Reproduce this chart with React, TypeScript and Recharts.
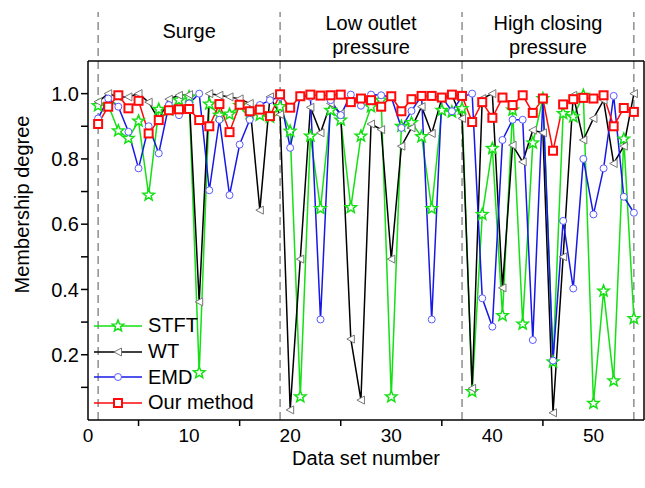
import React from 'react';
import { LineChart, Line, XAxis, YAxis, ReferenceLine, ReferenceArea, Legend, Label } from 'recharts';

const FONT = '"Liberation Sans", Arial, Helvetica, sans-serif';

// ---- data ----
const dataSetNumbers = [
  1, 2, 3, 4, 5, 6, 7, 8, 9, 10, 11, 12, 13, 14, 15, 16, 17, 18,
  19, 20, 21, 22, 23, 24, 25, 26, 27, 28, 29, 30, 31, 32, 33, 34, 35, 36,
  37, 38, 39, 40, 41, 42, 43, 44, 45, 46, 47, 48, 49, 50, 51, 52, 53, 54,
];

const stftValues = [
  0.963, 0.965, 0.886, 0.863, 0.916, 0.689, 0.952, 0.95, 0.98, 0.99, 0.145, 0.968, 0.934, 0.937, 0.964, 0.939, 0.934, 0.928,
  0.96, 0.885, 0.071, 0.87, 0.648, 0.949, 0.919, 0.651, 0.87, 0.96, 0.98, 0.071, 0.9, 0.911, 0.868, 0.648, 0.949, 0.944,
  0.954, 0.087, 0.63, 0.832, 0.32, 0.95, 0.294, 0.849, 0.985, 0.178, 0.939, 0.929, 0.995, 0.051, 0.395, 0.12, 0.861, 0.311,
];

const wtValues = [
  0.975, 1.0, 0.99, 0.99, 1.0, 0.974, 0.92, 0.983, 0.995, 0.997, 0.362, 1.0, 0.995, 0.99, 0.984, 0.97, 0.643, 0.99,
  0.936, 0.031, 0.493, 0.958, 0.88, 0.97, 0.939, 0.248, 0.061, 0.907, 0.89, 0.493, 0.839, 0.895, 0.96, 0.878, 0.985, 0.995,
  0.924, 0.097, 0.985, 1.0, 0.405, 0.842, 0.791, 0.888, 0.88, 0.022, 0.5, 0.995, 0.858, 0.924, 0.98, 0.786, 0.839, 1.0,
];

const emdValues = [
  0.924, 0.985, 0.96, 0.883, 0.771, 0.9, 0.817, 0.965, 0.934, 0.97, 1.0, 0.704, 0.92, 0.689, 0.844, 0.92, 0.965, 0.98,
  0.99, 0.834, 0.995, 0.99, 0.308, 0.98, 0.934, 0.997, 0.963, 0.997, 0.995, 0.99, 0.895, 0.947, 0.993, 0.308, 0.99, 0.946,
  0.99, 1.0, 0.373, 0.286, 0.858, 0.92, 0.92, 0.245, 0.985, 0.182, 0.61, 0.403, 0.8, 0.63, 0.771, 0.993, 0.684, 0.635,
];

const ourValues = [
  0.907, 0.96, 0.995, 0.955, 0.978, 0.878, 0.919, 0.949, 0.952, 0.953, 0.919, 0.9, 0.968, 0.882, 0.966, 0.946, 0.951, 0.931,
  0.998, 0.957, 0.992, 0.997, 0.994, 0.995, 0.997, 0.974, 0.985, 0.98, 0.96, 0.992, 0.946, 0.983, 0.993, 0.993, 0.988, 0.997,
  0.993, 0.913, 0.974, 0.926, 0.988, 0.965, 0.995, 0.941, 0.985, 0.825, 0.967, 0.983, 0.987, 0.985, 0.995, 0.9, 0.956, 0.944,
];

const seriesNames = ['STFT', 'WT', 'EMD', 'Our method'];
const xLabelTicks = [0, 10, 20, 30, 40, 50];
const xMinorTicks = [5, 15, 25, 35, 45];
const yTicks = [0.1, 0.2, 0.3, 0.4, 0.5, 0.6, 0.7, 0.8, 0.9, 1.0];
const yRightTicks = [0.1, 0.3, 0.5, 0.7, 0.9];
const boundaryPositions = [1, 19, 37, 54];
const regionStarts = [1, 19, 37];
const regionEnds = [19, 37, 54];
const regionLabels = [['Surge'], ['Low outlet', 'pressure'], ['High closing', 'pressure']];

const data = dataSetNumbers.map((n, i) => ({
  n,
  stft: stftValues[i],
  wt: wtValues[i],
  emd: emdValues[i],
  ours: ourValues[i],
}));

// ---- styles ----
const GREEN = '#14e014';
const BLUE = '#1818e6';
const RED = '#ff0a0a';
const BLACK = '#000000';

const starPoints = (cx: number, cy: number, R: number, r: number) => {
  const pts: string[] = [];
  for (let k = 0; k < 10; k++) {
    const rad = k % 2 === 0 ? R : r;
    const a = -Math.PI / 2 + (k * Math.PI) / 5;
    pts.push(`${(cx + rad * Math.cos(a)).toFixed(2)},${(cy + rad * Math.sin(a)).toFixed(2)}`);
  }
  return pts.join(' ');
};

const Marker = ({ kind, cx, cy }: { kind: string; cx: number; cy: number }) => {
  if (kind === 'star')
    return <polygon points={starPoints(cx, cy, 6, 2.6)} fill="#ffffff" stroke={GREEN} strokeWidth={1.5} />;
  if (kind === 'tri')
    return (
      <polygon
        points={`${cx - 4},${cy} ${cx + 3.5},${cy - 4} ${cx + 3.5},${cy + 4}`}
        fill="#ffffff"
        stroke="#777777"
        strokeWidth={1}
      />
    );
  if (kind === 'circle') return <circle cx={cx} cy={cy} r={3.5} fill="#ffffff" stroke="#5a5aff" strokeWidth={1} />;
  return <rect x={cx - 4} y={cy - 4} width={8} height={8} fill="#ffffff" stroke={RED} strokeWidth={2} />;
};

const makeDot = (kind: string) => (p: any) => {
  if (p.cx == null || p.cy == null) return <g key={`${kind}-${p.index}`} />;
  return (
    <g key={`${kind}-${p.index}`}>
      <Marker kind={kind} cx={p.cx} cy={p.cy} />
    </g>
  );
};

const seriesKeys = ['stft', 'wt', 'emd', 'ours'];
const seriesColors = [GREEN, BLACK, BLUE, RED];
const seriesMarkers = ['star', 'tri', 'circle', 'square'];

const BottomTick = (props: any) => {
  const { x, y, payload } = props;
  const v = payload.value;
  if (v % 10 === 0) {
    return (
      <text x={x} y={y + 22} textAnchor="middle" fontSize={19} fontFamily={FONT} fill="#000">
        {v}
      </text>
    );
  }
  return <line x1={x} y1={y} x2={x} y2={y + 6} stroke="#000" strokeWidth={1.5} />;
};

const RegionLabel = (props: any) => {
  const { viewBox, lines } = props;
  const cx = viewBox.x + viewBox.width / 2;
  const top = viewBox.y;
  if (lines.length === 1) {
    return (
      <text x={cx} y={top + 26} textAnchor="middle" fontSize={20} fontFamily={FONT} fill="#000">
        {lines[0]}
      </text>
    );
  }
  return (
    <text textAnchor="middle" fontSize={20} fontFamily={FONT} fill="#000">
      {lines.map((l: string, i: number) => (
        <tspan key={i} x={cx} y={top + 18 + i * 24}>
          {l}
        </tspan>
      ))}
    </text>
  );
};

const LegendContent = () => (
  <div style={{ fontFamily: FONT, fontSize: 20, color: '#000' }}>
    {seriesNames.map((name, i) => (
      <div key={name} style={{ display: 'flex', alignItems: 'center', height: 25.7 }}>
        <svg width={48} height={20} style={{ display: 'block' }}>
          <line x1={0} y1={10} x2={48} y2={10} stroke={seriesColors[i]} strokeWidth={1.5} />
          <Marker kind={seriesMarkers[i]} cx={24} cy={10} />
        </svg>
        <span style={{ marginLeft: 6, whiteSpace: 'nowrap' }}>{name}</span>
      </div>
    ))}
  </div>
);

export default function App() {
  return (
    <div style={{ position: 'absolute', left: 0, top: 0, width: 645, height: 488, background: '#fff' }}>
      <LineChart
        width={645}
        height={488}
        data={data}
        margin={{ top: 61, right: 1, bottom: 0, left: 0 }}
        style={{ fontFamily: FONT }}
      >
        <XAxis
          xAxisId="b"
          dataKey="n"
          type="number"
          domain={[0, 55]}
          ticks={[...xLabelTicks, ...xMinorTicks].sort((a, b) => a - b)}
          interval={0}
          tickLine={false}
          tickSize={0}
          tickMargin={0}
          height={68}
          axisLine={{ stroke: '#000', strokeWidth: 1.5 }}
          tick={BottomTick}
          allowDataOverflow
        >
          <Label
            content={(p: any) => (
              <text
                x={p.viewBox.x + p.viewBox.width / 2}
                y={465}
                textAnchor="middle"
                fontSize={20}
                fontFamily={FONT}
                fill="#000"
              >
                Data set number
              </text>
            )}
          />
        </XAxis>
        <XAxis
          xAxisId="t"
          orientation="top"
          mirror
          type="number"
          domain={[0, 55]}
          ticks={xMinorTicks}
          interval={0}
          tick={false}
          tickSize={6}
          tickLine={{ stroke: '#000', strokeWidth: 1.5 }}
          axisLine={{ stroke: '#000', strokeWidth: 1.5 }}
          allowDataOverflow
        />
        <YAxis
          yAxisId="l"
          type="number"
          domain={[0, 1.1]}
          ticks={yTicks}
          interval={0}
          width={88}
          tickSize={7}
          tickMargin={2}
          tickFormatter={(v: number) => (Math.round(v * 10) % 2 === 0 ? v.toFixed(1) : '')}
          tick={{ fontSize: 20, fill: '#000', fontFamily: FONT }}
          tickLine={{ stroke: '#000', strokeWidth: 1.5 }}
          axisLine={{ stroke: '#000', strokeWidth: 1.5 }}
          allowDataOverflow
        >
          <Label
            content={(p: any) => {
              const cx = 29;
              const cy = p.viewBox.y + p.viewBox.height / 2 - 36;
              return (
                <text
                  x={cx}
                  y={cy}
                  transform={`rotate(-90 ${cx} ${cy})`}
                  textAnchor="middle"
                  fontSize={20}
                  fontFamily={FONT}
                  fill="#000"
                >
                  Membership degree
                </text>
              );
            }}
          />
        </YAxis>
        <YAxis
          yAxisId="r"
          orientation="right"
          mirror
          type="number"
          domain={[0, 1.1]}
          ticks={yRightTicks}
          interval={0}
          width={1}
          tick={false}
          tickSize={6}
          tickLine={{ stroke: '#000', strokeWidth: 1.5 }}
          axisLine={{ stroke: '#000', strokeWidth: 1.5 }}
          allowDataOverflow
        />

        {boundaryPositions.map((b) => (
          <ReferenceLine
            key={`b-${b}`}
            xAxisId="b"
            yAxisId="l"
            segment={[
              { x: b, y: 0 },
              { x: b, y: 1.25 },
            ]}
            ifOverflow="visible"
            stroke="#555"
            strokeWidth={1}
            strokeDasharray="8 5"
          />
        ))}
        {regionStarts.map((s, i) => (
          <ReferenceArea
            key={`r-${i}`}
            xAxisId="b"
            yAxisId="l"
            x1={s}
            x2={regionEnds[i]}
            y1={1.1}
            y2={1.25}
            ifOverflow="visible"
            fill="none"
            stroke="none"
            fillOpacity={0}
            label={<RegionLabel lines={regionLabels[i]} />}
          />
        ))}

        {seriesKeys.map((k, i) => (
          <Line
            key={k}
            xAxisId="b"
            yAxisId="l"
            type="linear"
            dataKey={k}
            name={seriesNames[i]}
            stroke={seriesColors[i]}
            strokeWidth={1.5}
            dot={makeDot(seriesMarkers[i])}
            activeDot={false}
            isAnimationActive={false}
          />
        ))}

        <Legend
          layout="vertical"
          align="center"
          verticalAlign="middle"
          content={LegendContent}
          wrapperStyle={{ left: 94, top: 313, width: 'auto', height: 'auto' }}
        />
      </LineChart>
    </div>
  );
}
